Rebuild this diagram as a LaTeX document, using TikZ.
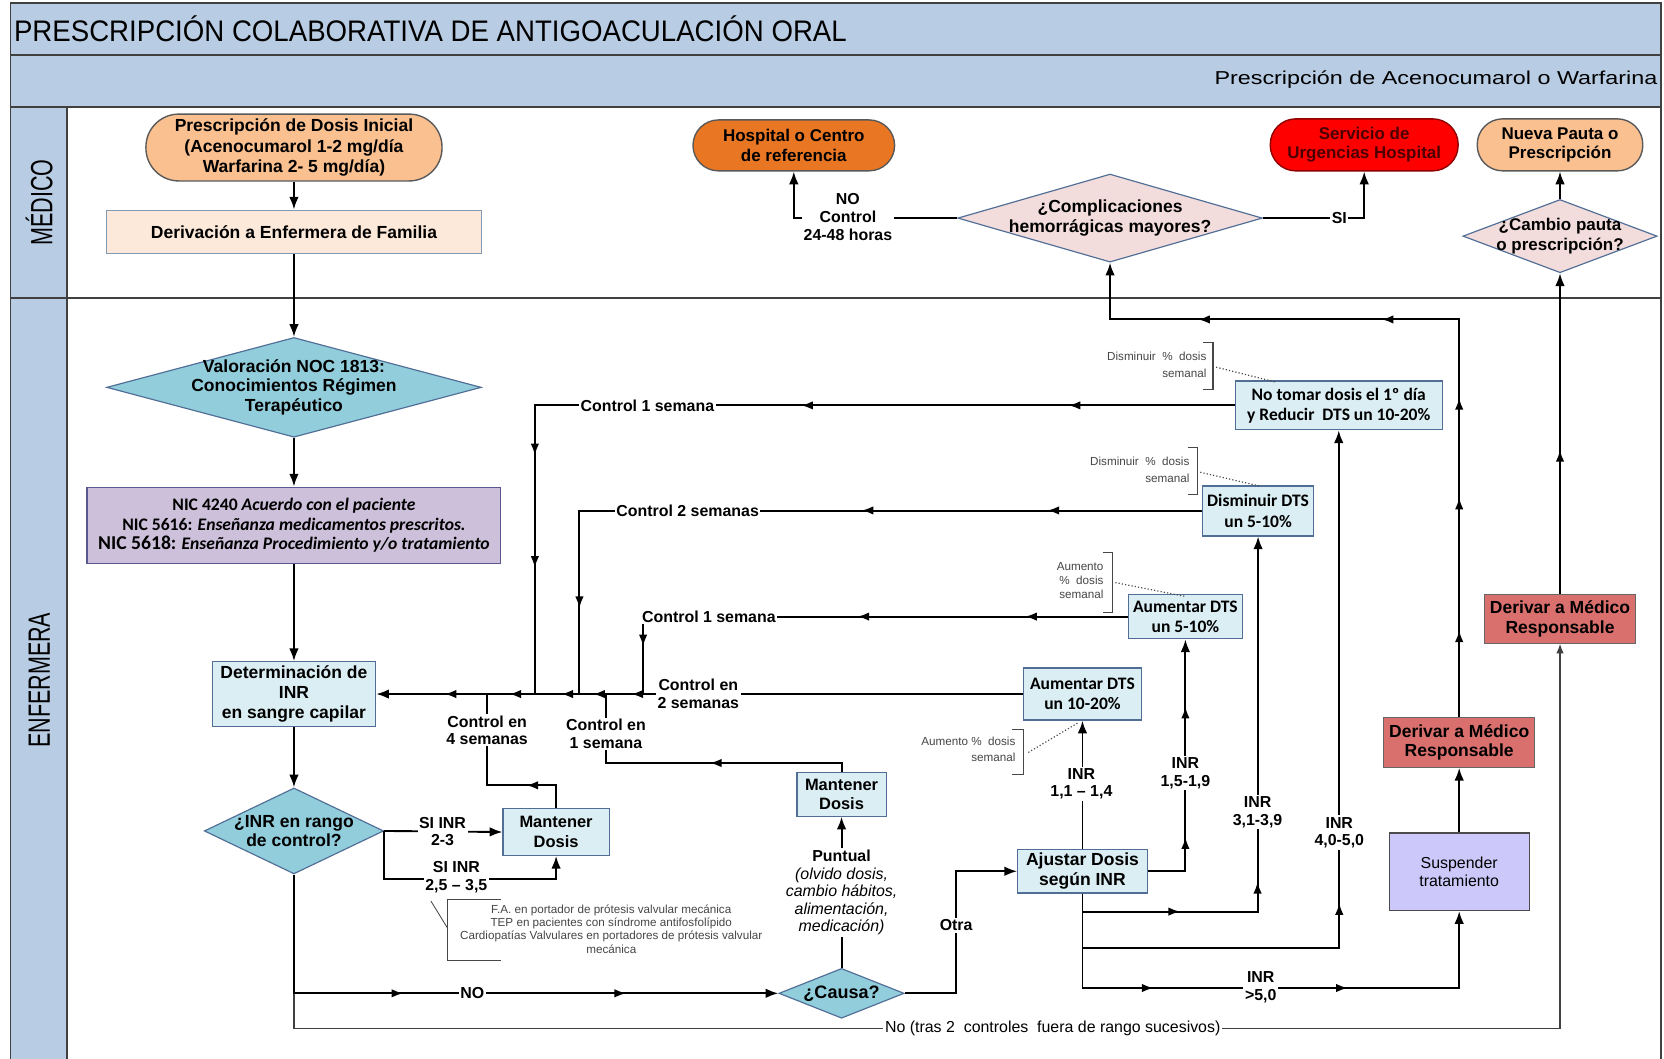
\documentclass[tikz,border=0pt]{standalone}
\usepackage{fontspec}
\setmainfont{Liberation Sans}
\newfontfamily\carl{Carlito}
\newfontfamily\titlef[FakeStretch=0.93]{Liberation Sans}
\newfontfamily\subf[FakeStretch=1.25]{Liberation Sans}
\newfontfamily\lanef[FakeStretch=0.7]{Liberation Sans}
\usetikzlibrary{shapes.geometric,arrows.meta}
\definecolor{band}{RGB}{184,204,228}
\definecolor{peach}{RGB}{250,192,144}
\definecolor{peachl}{RGB}{253,233,217}
\definecolor{orng}{RGB}{233,118,34}
\definecolor{pinkd}{RGB}{242,221,220}
\definecolor{tealb}{RGB}{146,205,220}
\definecolor{lblue}{RGB}{219,238,243}
\definecolor{lav}{RGB}{204,192,218}
\definecolor{salmon}{RGB}{217,112,110}
\definecolor{lavb}{RGB}{205,200,250}
\definecolor{bord}{RGB}{80,110,150}
\definecolor{agray}{RGB}{70,70,70}
\newcommand\fA{\fontsize{16.5}{18.5}\selectfont}
\newcommand\fL{\fontsize{15}{16.5}\selectfont}
\newcommand\itl[1]{{\mdseries\itshape #1}}
\tikzset{
 fr/.style={draw=black!75, line width=1.4pt},
 bx/.style={rectangle, draw=bord, line width=1.1pt, align=center, inner sep=1pt, font=\bfseries\fA},
 cbx/.style={bx, font=\carl\bfseries\fontsize{16.5}{19}\selectfont},
 pill/.style={bx, draw=black!65, line width=1.3pt},
 dia/.style={diamond, draw=bord, line width=1.1pt, inner sep=0pt},
 dtxt/.style={align=center, inner sep=0pt, font=\bfseries\fA},
 ln/.style={line width=1.8pt},
 arr/.style={ln, -{Latex[length=12pt,width=9pt]}},
 thinarr/.style={line width=1.3pt, draw=black!75, -{Latex[length=9pt,width=7pt]}},
 mt/.style={ln, -{Latex[length=11pt,width=8pt]}},
 lbl/.style={fill=white, align=center, inner sep=1.5pt, font=\bfseries\fL},
 note/.style={align=right, text=agray, inner sep=0pt, font=\fontsize{11}{16}\selectfont},
 brk/.style={draw=agray, line width=1pt},
 dots/.style={draw=agray, line width=1.1pt, dotted},
}
\newcommand\aL[2]{\draw[mt] (#1+8,#2) -- (#1,#2);}
\newcommand\aR[2]{\draw[mt] (#1-8,#2) -- (#1,#2);}
\newcommand\aU[2]{\draw[mt] (#1,#2+8) -- (#1,#2);}
\newcommand\aD[2]{\draw[mt] (#1,#2-8) -- (#1,#2);}
\begin{document}
\begin{tikzpicture}[x=1pt,y=-1pt]
\useasboundingbox (0,0) rectangle (1568,997);
% frame and lanes
\fill[white] (0,0) rectangle (1568,997);
\fill[band] (10,3) rectangle (1565,101);
\fill[band] (10,101) rectangle (63,1000);
\draw[fr] (10,3) rectangle (1565,1000);
\draw[fr] (10,52) -- (1565,52);
\draw[fr] (10,101) -- (1565,101);
\draw[fr] (63,101) -- (63,1000);
\draw[fr] (10,281) -- (1565,281);
\node[anchor=west, inner sep=0pt, font=\titlef\fontsize{28}{28}\selectfont] (title) at (13,27) {PRESCRIPCIÓN COLABORATIVA DE ANTIGOACULACIÓN ORAL};
\node[anchor=east, inner sep=0pt, font=\subf\fontsize{17.6}{18}\selectfont] (sub) at (1562,75) {Prescripción de Acenocumarol o Warfarina};
\node[rotate=90, inner sep=0pt, font=\lanef\fontsize{29}{29}\selectfont] (lmed) at (37,191) {MÉDICO};
\node[rotate=90, inner sep=0pt, font=\lanef\fontsize{29}{29}\selectfont] (lenf) at (37,641) {ENFERMERA};

% MEDICO lane nodes
\node[pill, fill=peach, rounded corners=31pt, minimum width=279pt, minimum height=63pt, font=\bfseries\fontsize{16.5}{19.5}\selectfont] (presc) at (277,139) {Prescripción de Dosis Inicial\\(Acenocumarol 1-2 mg/día\\Warfarina 2- 5 mg/día)};
\node[bx, fill=peachl, draw=bord!70, minimum width=353pt, minimum height=41pt] (deriv) at (277,218.5) {Derivación a Enfermera de Familia};
\node[pill, fill=orng, rounded corners=24pt, minimum width=190pt, minimum height=48pt, font=\bfseries\fontsize{16}{18}\selectfont] (hosp) at (748,137) {Hospital o Centro\\de referencia};
\node[dia, fill=pinkd, minimum width=287pt, minimum height=83pt, label={[dtxt]center:{¿Complicaciones\\hemorrágicas mayores?}}] (compl) at (1046,205.5) {};
\node[pill, fill=red, draw=red!55!black, text=red!30!black, rounded corners=24pt, minimum width=177pt, minimum height=49pt, font=\bfseries\fontsize{16}{18}\selectfont] (serv) at (1285.5,136.5) {Servicio de\\Urgencias Hospital};
\node[pill, fill=peach, rounded corners=24pt, minimum width=156pt, minimum height=49pt, font=\bfseries\fontsize{16}{18}\selectfont] (nueva) at (1470,136.5) {Nueva Pauta o\\Prescripción};
\node[dia, fill=pinkd, minimum width=183pt, minimum height=69pt, label={[dtxt, font=\bfseries\fontsize{16}{18}\selectfont]center:{¿Cambio pauta\\o prescripción?}}] (cambio) at (1470,222.5) {};

% ENFERMERA lane nodes
\node[dia, fill=tealb, minimum width=353pt, minimum height=94pt, label={[dtxt]center:{Valoración NOC 1813:\\Conocimientos Régimen\\Terapéutico}}] (noc) at (277,365) {};
\node[bx, fill=lav, draw=bord!80!violet, minimum width=390pt, minimum height=72pt, font=\carl\bfseries\fontsize{16.6}{18.5}\selectfont] (nic) at (277,495) {NIC 4240 \textit{Acuerdo con el paciente}\\NIC 5616: \textit{Enseñanza medicamentos prescritos.}\\{\fontsize{18.5}{18.5}\selectfont NIC 5618:} \textit{Enseñanza Procedimiento y/o tratamiento}};
\node[bx, fill=lblue, minimum width=154pt, minimum height=61pt] (det) at (277,654) {Determinación de\\INR\\en sangre capilar};
\node[dia, fill=tealb, minimum width=169pt, minimum height=81pt, label={[dtxt]center:{¿INR en rango\\de control?}}] (rango) at (277,783) {};
\node[bx, fill=lblue, minimum width=100pt, minimum height=44pt, font=\bfseries\fontsize{15.5}{18.5}\selectfont] (mant1) at (524,784) {Mantener\\Dosis};
\node[bx, fill=lblue, minimum width=84pt, minimum height=41pt, font=\bfseries\fontsize{15.5}{18.5}\selectfont] (mant2) at (793,748.5) {Mantener\\Dosis};
\node[dia, fill=tealb, minimum width=118pt, minimum height=47pt, label={[dtxt, font=\bfseries\fontsize{17}{18}\selectfont]center:{¿Causa?}}] (causa) at (793,936) {};
\node[bx, fill=lblue, minimum width=122pt, minimum height=41pt] (ajust) at (1020,821) {Ajustar Dosis\\según INR};
\node[cbx, fill=lblue, minimum width=111pt, minimum height=49pt] (aum1020) at (1020,654) {Aumentar DTS\\un 10-20\%};
\node[cbx, fill=lblue, minimum width=108pt, minimum height=42pt] (aum510) at (1117,581) {Aumentar DTS\\un 5-10\%};
\node[cbx, fill=lblue, minimum width=105pt, minimum height=47pt] (dism) at (1185.5,481.5) {Disminuir DTS\\un 5-10\%};
\node[cbx, fill=lblue, minimum width=195pt, minimum height=46pt] (notomar) at (1261.5,382) {No tomar dosis el 1º día\\y Reducir\ \ DTS un 10-20\%};
\node[bx, fill=salmon, draw=black!60, minimum width=142pt, minimum height=47pt, font=\bfseries\fontsize{16.5}{18.5}\selectfont] (der1) at (1375,699.5) {Derivar a Médico\\Responsable};
\node[bx, fill=lavb, draw=black!70, minimum width=132pt, minimum height=73pt, font=\fontsize{15}{16.5}\selectfont] (susp) at (1375,821.5) {Suspender\\tratamiento};
\node[bx, fill=salmon, draw=black!60, minimum width=142pt, minimum height=46pt, font=\bfseries\fontsize{16.5}{18.5}\selectfont] (der2) at (1470,583) {Derivar a Médico\\Responsable};

% connectors
\draw[arr] (presc.south) -- (deriv.north);
\draw[arr] (deriv.south) -- (noc.north);
\draw[arr] (noc.south) -- (nic.north);
\draw[arr] (nic.south) -- (det.north);
\draw[arr] (det.south) -- (rango.north);
\draw[arr] (rango.east) -- (mant1.west);
\draw[arr] (rango.east) -- ++(0,45) -| (mant1.south);
\coordinate (nosplit) at (rango.south |- causa.west);
\draw[thinarr] (nosplit) -- ++(0,33) -| (der2.south);
\draw[arr] (rango.south) -- (nosplit) -- (causa.west);
\coordinate (b4) at (459,654);
\draw[ln] (mant1.north) -- (524,740) -- (459,740) -- (b4);
\coordinate (b1) at (571,654);
\draw[ln] (mant2.north) -- (793,719) -- (571,719) -- (b1);
\draw[arr] (aum1020.west) -- (det.east);
\coordinate (b1s) at (504,654);
\draw[ln] (notomar.west) -| (b1s);
\coordinate (b2s) at (546,654);
\draw[ln] (dism.west) -| (b2s);
\coordinate (b1t) at (606,654);
\draw[ln] (aum510.west) -| (b1t);
\draw[arr] (causa.east) -- (901,936) |- (ajust.west);
\draw[arr] (causa.north) -- (mant2.south);
\draw[arr] (ajust.north) -- (aum1020.south);
\draw[arr] (ajust.east) -| (aum510.south);
\draw[arr] (ajust.south) -- (1020,859) -| (dism.south);
\draw[arr] (ajust.south) -- (1020,893) -| (notomar.south);
\draw[arr] (ajust.south) -- (1020,931) -| (susp.south);
\draw[arr] (susp.north) -- (der1.south);
\draw[arr] (der1.north) -- (1375,301) -| (compl.south);
\draw[arr] (der2.north) -- (cambio.south);
\draw[arr] (cambio.north) -- (nueva.south);
\draw[arr] (compl.west) -| (hosp.south);
\draw[arr] (compl.east) -| (serv.south);

% mid arrows
\aL{755}{382} \aL{1007}{382} \aD{504}{429} \aD{504}{535}
\aL{812}{481} \aL{987}{481} \aD{546}{573}
\aL{808}{581} \aL{966}{581} \aD{606}{609}
\aL{419}{654} \aL{480}{654} \aL{529}{654} \aL{559}{654} \aL{595}{654}
\aL{496}{740} \aL{669}{719}
\aR{380}{936} \aR{590}{936}
\aU{1117}{789} \aU{1117}{666}
\aR{1112}{859} \aU{1185}{831} \aU{1262}{851}
\aR{1087}{931} \aR{1270}{931}
\aU{1375}{594} \aU{1375}{469} \aU{1375}{375}
\aL{1302}{301} \aL{1129}{301}
\aU{1470}{424}

% connector labels
\node[lbl] (l23) at (417,783.5) {SI INR\\2-3};
\node[lbl] (l2535) at (430,826.5) {SI INR\\2,5 – 3,5};
\node[lbl] (lno) at (445,936) {NO};
\node[lbl, font=\fontsize{15}{16.5}\selectfont] (ltras) at (992,969) {No (tras 2\ \ controles\ \ fuera de rango sucesivos)};
\node[lbl] (lc4) at (459,688) {Control en\\4 semanas};
\node[lbl] (lc1a) at (571,691.5) {Control en\\1 semana};
\node[lbl] (lc2a) at (658,654) {Control en\\2 semanas};
\node[lbl] (lc1b) at (610,382) {Control 1 semana};
\node[lbl] (lc2b) at (648,481) {Control 2 semanas};
\node[lbl] (lc1c) at (668,581) {Control 1 semana};
\node[lbl] (lotra) at (901,872) {Otra};
\node[lbl] (lpunt) at (793,841) {Puntual\\\itl{(olvido dosis,}\\\itl{cambio hábitos,}\\\itl{alimentación,}\\\itl{medicación)}};
\node[lbl] (li1) at (1019,738.5) {INR\\1,1 – 1,4};
\node[lbl] (li2) at (1117,728.5) {INR\\1,5-1,9};
\node[lbl] (li3) at (1185,765.5) {INR\\3,1-3,9};
\node[lbl] (li4) at (1262,784.5) {INR\\4,0-5,0};
\node[lbl] (li5) at (1188,930.5) {INR\\>5,0};
\node[lbl] (lnoc) at (799,204.5) {NO\\Control\\24-48 horas};
\node[lbl] (lsi) at (1262,205) {SI};

% annotations
\node[note, anchor=east] (n1) at (1137,344) {Disminuir\ \ \%\ \ dosis\\semanal};
\draw[brk] (1134,323) -- (1143,323) -- (1143,367) -- (1134,367);
\draw[dots] (1146,346) -- (1202,360);
\node[note, anchor=east] (n2) at (1121,443) {Disminuir\ \ \%\ \ dosis\\semanal};
\draw[brk] (1119,422) -- (1128,422) -- (1128,466) -- (1119,466);
\draw[dots] (1131,445) -- (1187,458);
\node[note, anchor=east, font=\fontsize{11}{13.5}\selectfont] (n3) at (1040,547) {Aumento\\\%\ \ dosis\\semanal};
\draw[brk] (1039,521) -- (1048,521) -- (1048,577) -- (1039,577);
\draw[dots] (1051,549) -- (1117,562);
\node[note, anchor=east, font=\fontsize{11}{15}\selectfont] (n4) at (957,706.5) {Aumento\ \%\ \ dosis\\semanal};
\draw[brk] (954,687) -- (964,687) -- (964,730) -- (954,730);
\draw[dots] (969,709) -- (1016,681);
\node[note, align=center, font=\fontsize{11}{12.4}\selectfont] (n5) at (576,875.5) {F.A. en portador de prótesis valvular mecánica\\TEP en pacientes con síndrome antifosfolípido\\Cardiopatías Valvulares en portadores de prótesis valvular\\mecánica};
\draw[brk] (472,848) -- (422,848) -- (422,905) -- (472,905);
\draw[brk, line width=0.8pt] (406,849) -- (422,875);
\end{tikzpicture}
\end{document}
